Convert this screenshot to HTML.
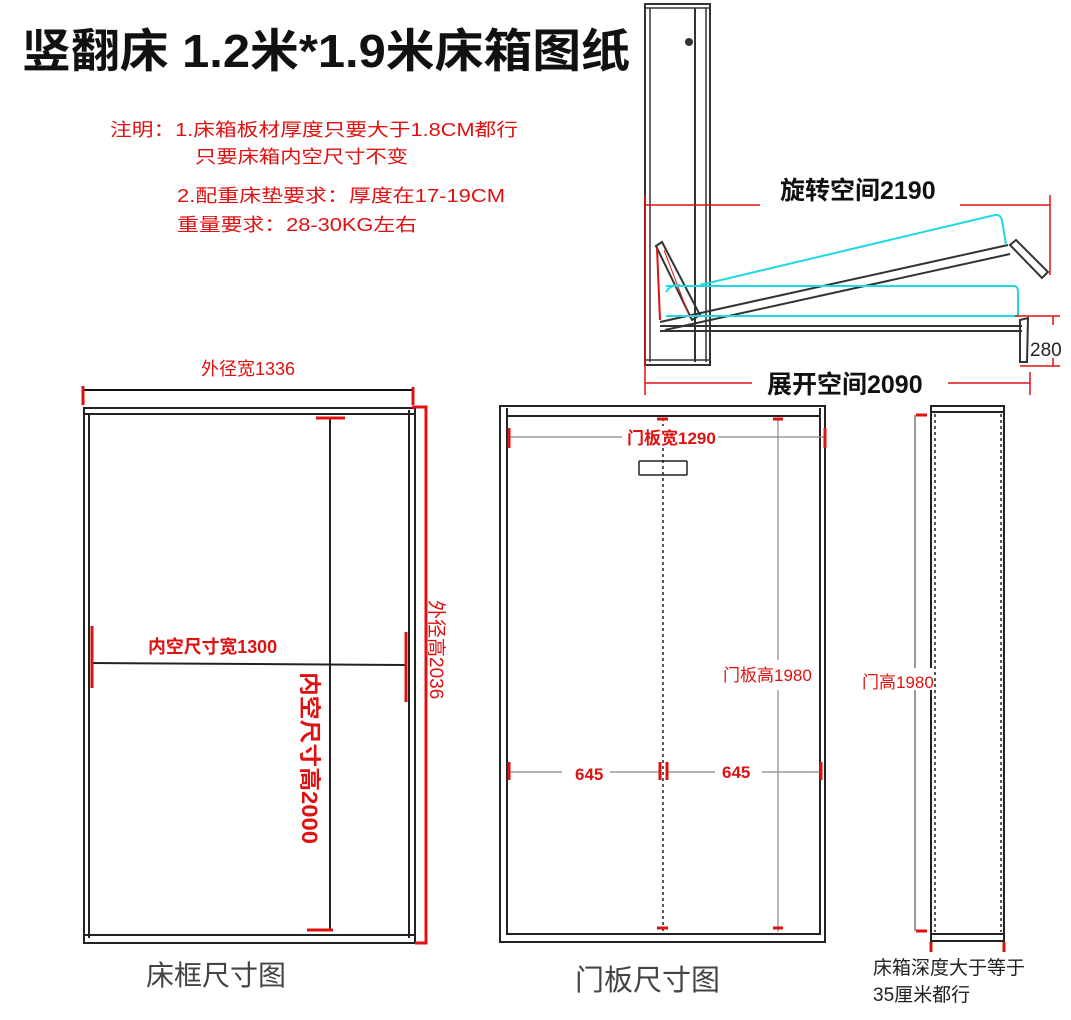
<!DOCTYPE html>
<html><head><meta charset="utf-8"><style>
html,body{margin:0;padding:0;background:#fff;}
svg{display:block;}
text{font-family:"Liberation Sans","Noto Sans CJK SC",sans-serif;}
</style></head><body>
<svg width="1071" height="1020" viewBox="0 0 1071 1020" xmlns="http://www.w3.org/2000/svg">
<rect width="1071" height="1020" fill="#fff"/>
<text x="22" y="67" font-size="46" font-weight="bold" fill="#111" textLength="608" lengthAdjust="spacingAndGlyphs">竖翻床 1.2米*1.9米床箱图纸</text>
<g fill="#e01010" font-size="18">
<text x="110" y="136" textLength="408" lengthAdjust="spacingAndGlyphs">注明：1.床箱板材厚度只要大于1.8CM都行</text>
<text x="195" y="163" textLength="213" lengthAdjust="spacingAndGlyphs">只要床箱内空尺寸不变</text>
<text x="177" y="202" textLength="328" lengthAdjust="spacingAndGlyphs">2.配重床垫要求：厚度在17-19CM</text>
<text x="177" y="231" textLength="240" lengthAdjust="spacingAndGlyphs">重量要求：28-30KG左右</text>
</g>

<g stroke="#333" fill="none" stroke-width="2">
<rect x="645" y="4" width="65" height="361"/>
<line x1="650" y1="8" x2="650" y2="362" stroke-width="1.5"/>
<line x1="695" y1="8" x2="695" y2="362" stroke-width="2"/>
<line x1="706" y1="8" x2="706" y2="362" stroke-width="1.5"/>
<line x1="645" y1="8" x2="710" y2="8" stroke-width="1.5"/>
<line x1="645" y1="360" x2="710" y2="360" stroke-width="1.5"/>
</g>
<circle cx="689" cy="42" r="4" fill="#333"/>
<g stroke="#333" fill="none" stroke-width="2">
<line x1="660" y1="326" x2="1022" y2="326"/>
<line x1="660" y1="331" x2="1022" y2="331"/>
<line x1="660" y1="322" x2="1008" y2="245"/>
<line x1="665" y1="330" x2="1010" y2="254"/>
<polygon points="656,246 662,242 700,315 692,320"/>
<polygon points="1010,245 1016,240 1048,272 1042,278"/>
<path d="M1020,320 L1028,318 L1027,362 L1020,362 Z"/>
</g>
<line x1="657" y1="248" x2="660" y2="320" stroke="#e01010" stroke-width="2"/>
<line x1="664" y1="250" x2="690" y2="318" stroke="#e01010" stroke-width="1"/>
<g stroke="#20d8e0" fill="none" stroke-width="2">
<path d="M700,285 L995,215 Q1000,214 1002,220 L1006,245"/>
<path d="M666,286 L1014,286 Q1018,286 1018,292 L1018,316 L666,316"/>
<path d="M666,292 Q670,285 680,285"/>
</g>
<g stroke="#e01010" stroke-width="1.5">
<line x1="645" y1="205" x2="760" y2="205"/>
<line x1="960" y1="205" x2="1050" y2="205"/>
<line x1="1050" y1="195" x2="1050" y2="275"/>
<line x1="645" y1="195" x2="645" y2="395"/>
<line x1="645" y1="383" x2="752" y2="383"/>
<line x1="948" y1="383" x2="1030" y2="383"/>
<line x1="1030" y1="372" x2="1030" y2="395"/>
<line x1="1015" y1="316" x2="1060" y2="316"/>
<line x1="1020" y1="366" x2="1060" y2="366"/>
<line x1="1053" y1="316" x2="1053" y2="325"/>
<line x1="1053" y1="358" x2="1053" y2="366"/>
</g>
<text x="780" y="199" font-size="25" font-weight="bold" fill="#111">旋转空间2190</text>
<text x="767" y="393" font-size="25" font-weight="bold" fill="#111">展开空间2090</text>
<text x="1030" y="356" font-size="19" fill="#222">280</text>

<text x="201" y="375" font-size="18" fill="#e01010">外径宽1336</text>
<line x1="83" y1="390" x2="413" y2="390" stroke="#111" stroke-width="2"/>
<line x1="83" y1="386" x2="83" y2="405" stroke="#e01010" stroke-width="3"/>
<line x1="413" y1="387" x2="413" y2="405" stroke="#e01010" stroke-width="3"/>
<g stroke="#222" fill="none" stroke-width="2">
<rect x="84" y="408" width="331" height="535"/>
<line x1="89" y1="414" x2="89" y2="938"/>
<line x1="409" y1="410" x2="409" y2="938"/>
<line x1="84" y1="414" x2="415" y2="414"/>
<line x1="84" y1="935" x2="415" y2="935"/>
</g>
<path d="M412,407 L426,407 L426,943 L415,943" stroke="#e01010" stroke-width="3" fill="none"/>
<text transform="translate(430,600) rotate(90)" font-size="19" fill="#e01010">外径高2036</text>
<line x1="330" y1="418" x2="330" y2="930" stroke="#222" stroke-width="2"/>
<line x1="316" y1="418" x2="345" y2="418" stroke="#e01010" stroke-width="3"/>
<line x1="307" y1="930" x2="333" y2="930" stroke="#e01010" stroke-width="3"/>
<line x1="92" y1="663" x2="407" y2="665" stroke="#222" stroke-width="2"/>
<line x1="92" y1="626" x2="92" y2="688" stroke="#e01010" stroke-width="3"/>
<line x1="406" y1="632" x2="406" y2="702" stroke="#e01010" stroke-width="3"/>
<text x="148" y="653" font-size="18" font-weight="bold" fill="#e01010" textLength="129" lengthAdjust="spacingAndGlyphs">内空尺寸宽1300</text>
<text transform="translate(302,672) rotate(90)" font-size="22" font-weight="bold" fill="#e01010" textLength="172" lengthAdjust="spacingAndGlyphs">内空尺寸高2000</text>
<text x="146" y="985" font-size="28" fill="#444">床框尺寸图</text>

<g stroke="#222" fill="none" stroke-width="2">
<rect x="500" y="406" width="325" height="536"/>
<line x1="507" y1="408" x2="507" y2="935"/>
<line x1="820" y1="408" x2="820" y2="935"/>
<line x1="507" y1="416" x2="820" y2="416"/>
<line x1="507" y1="934" x2="820" y2="934"/>
<rect x="639" y="461" width="48" height="14" rx="1" stroke-width="1.5"/>
</g>
<line x1="663" y1="418" x2="663" y2="932" stroke="#222" stroke-width="1.5" stroke-dasharray="3,3"/>
<line x1="778" y1="418" x2="778" y2="932" stroke="#888" stroke-width="1.2"/>
<g stroke="#888" stroke-width="1.2">
<line x1="510" y1="437" x2="622" y2="437"/><line x1="712" y1="437" x2="825" y2="437"/>
<line x1="510" y1="772" x2="562" y2="772"/><line x1="610" y1="772" x2="660" y2="772"/>
<line x1="667" y1="772" x2="715" y2="772"/><line x1="762" y1="772" x2="822" y2="772"/>
</g>
<rect x="770" y="660" width="20" height="30" fill="#fff"/>
<g stroke="#e01010" stroke-width="3">
<line x1="509" y1="428" x2="509" y2="448"/><line x1="825" y1="428" x2="825" y2="448"/>
<line x1="509" y1="762" x2="509" y2="780"/><line x1="821" y1="762" x2="821" y2="780"/>
<line x1="660" y1="762" x2="660" y2="780"/><line x1="667" y1="762" x2="667" y2="780"/>
<line x1="657" y1="419" x2="668" y2="419"/><line x1="773" y1="419" x2="783" y2="419"/>
<line x1="657" y1="928" x2="668" y2="928"/><line x1="773" y1="928" x2="783" y2="928"/>
</g>
<rect x="626" y="426" width="92" height="22" fill="#fff"/>
<text x="627" y="444" font-size="17" font-weight="bold" fill="#e01010">门板宽1290</text>
<text x="575" y="780" font-size="17" font-weight="bold" fill="#e01010">645</text>
<text x="722" y="778" font-size="17" font-weight="bold" fill="#e01010">645</text>
<text x="723" y="681" font-size="17" fill="#e01010">门板高1980</text>
<text x="575" y="990" font-size="29" fill="#444">门板尺寸图</text>

<g stroke="#222" fill="none" stroke-width="2">
<rect x="931" y="406" width="73" height="535"/>
<line x1="931" y1="412" x2="1004" y2="412"/>
<line x1="931" y1="934" x2="1004" y2="934"/>
</g>
<line x1="935" y1="414" x2="935" y2="932" stroke="#222" stroke-width="1.5" stroke-dasharray="3,3"/>
<line x1="1001" y1="414" x2="1001" y2="932" stroke="#222" stroke-width="1.5" stroke-dasharray="3,3"/>
<line x1="915" y1="415" x2="915" y2="931" stroke="#555" stroke-width="1.2"/>
<line x1="916" y1="415" x2="927" y2="415" stroke="#e01010" stroke-width="3"/>
<line x1="916" y1="931" x2="927" y2="931" stroke="#e01010" stroke-width="3"/>
<line x1="931" y1="942" x2="931" y2="952" stroke="#e01010" stroke-width="3"/>
<line x1="1004" y1="942" x2="1004" y2="952" stroke="#e01010" stroke-width="3"/>
<rect x="860" y="668" width="72" height="22" fill="#fff"/>
<text x="862" y="688" font-size="17" fill="#e01010">门高1980</text>
<text x="873" y="974" font-size="19" fill="#222">床箱深度大于等于</text>
<text x="873" y="1001" font-size="19" fill="#222">35厘米都行</text>
</svg>
</body></html>
